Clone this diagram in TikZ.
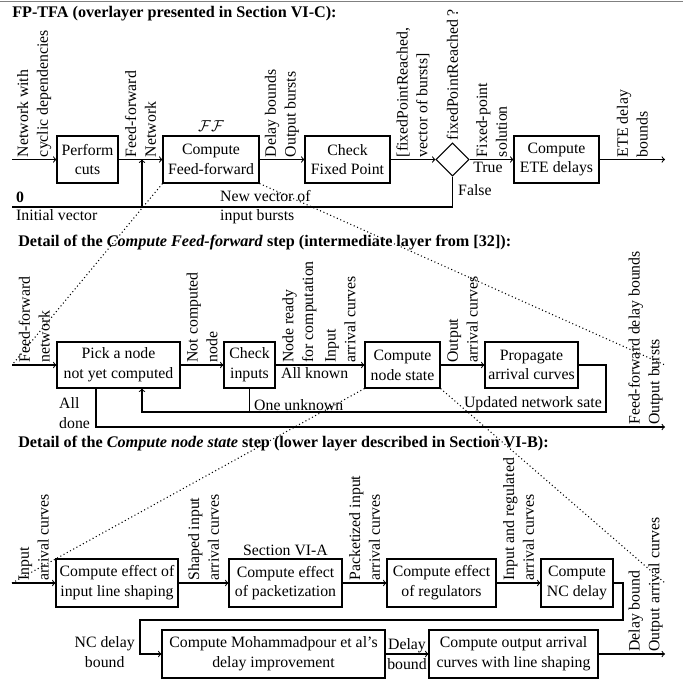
\documentclass[tikz,border=0pt]{standalone}
\usepackage{fontspec}
\setmainfont{Liberation Serif}
\usetikzlibrary{shapes.geometric,calc}
\newcommand{\bodyfont}{\fontsize{12}{15}\selectfont}
\newcommand{\ttlfont}{\fontsize{12.3}{14}\selectfont\bfseries}
\tikzset{
 box/.style={draw, line width=0.8pt, align=center, inner xsep=2pt, inner ysep=2pt, font=\bodyfont, minimum height=47*0.76pt},
 lbl/.style={rotate=90, anchor=west, align=left, inner sep=1.5pt, font=\bodyfont},
 endlbl/.style={rotate=90, anchor=south west, align=left, inner sep=1.5pt, font=\bodyfont},
 txt/.style={font=\bodyfont, inner sep=1.5pt},
 flow/.style={->, line width=0.8pt},
 link/.style={line width=0.8pt},
 zoomline/.style={dotted, line width=0.8pt},
 ttl/.style={anchor=base west, font=\ttlfont, inner sep=0pt},
}
\begin{document}
\begin{tikzpicture}[x=0.76pt,y=-0.76pt]
\useasboundingbox (0,0) rectangle (683,683);
\draw[gray, line width=1.2pt] (0,1.5) -- (683,1.5);

% ---------- titles
\node[ttl] (t1) at (12,17) {FP-TFA (overlayer presented in Section VI-C):};
\node[ttl] (t2) at (18,246) {Detail of the \textit{Compute Feed-forward} step (intermediate layer from [32]):};
\node[ttl] (t3) at (18,447) {Detail of the \textit{Compute node state} step (lower layer described in Section VI-B):};

% ---------- row 1
\coordinate (in1) at (12,159.5);
\coordinate (out1) at (665,159.5);
\node[box, minimum width=61*0.76pt] (cuts) at (87.5,159.5) {Perform\\cuts};
\node[box, minimum width=96*0.76pt] (ff) at (211,159.5) {Compute\\Feed-forward};
\node[box, minimum width=85*0.76pt] (chk) at (347.5,159.5) {Check\\Fixed Point};
\node[draw, diamond, aspect=1, inner sep=0pt, line width=0.8pt, minimum width=33*0.76pt, minimum height=33*0.76pt] (dia) at (452.5,159.5) {};
\node[box, minimum width=85*0.76pt] (ete) at (556.5,159.5) {Compute\\ETE delays};
\node[txt, anchor=south, inner sep=3pt] (ffl) at (ff.north) {$\mathcal{F}\mathcal{F}$};
\node[lbl] (fpr) at (dia.north) {fixedPointReached ?};

\draw[flow] (in1) -- (cuts.west) node[midway, lbl] (l11) {Network with\\cyclic dependencies};
\draw[flow] (cuts.east) -- (ff.west) node[midway, lbl] (l12) {Feed-forward\\Network};
\draw[flow] (ff.east) -- (chk.west) node[midway, lbl] (l13) {Delay bounds\\Output bursts};
\draw[flow] (chk.east) -- (dia.west) node[midway, lbl] (l14) {[fixedPointReached,\\vector of bursts]};
\draw[flow] (dia.east) -- (ete.west) node[midway, lbl] (l15) {Fixed-point\\solution}
  node[pos=0.42, below, txt] (tru) {True};
\draw[flow] (ete.east) -- (out1) node[midway, lbl] (l16) {ETE delay\\bounds};

\coordinate (init) at (12,207);
\coordinate (j) at (142,207);
\coordinate (jt) at (142,159.5);
\draw[flow] (init) -- (j) -- (jt);
\draw[link] (dia.south) |- (j);
\node[txt, anchor=west] (fls) at (456,190) {False};
\node[anchor=south west, font=\bodyfont\bfseries, inner sep=1.5pt] (zero) at (14,205) {0};
\node[txt, anchor=north west] (iv) at (14,207) {Initial vector};
\node[txt, anchor=west, align=left] (nv) at (218,207) {New vector of\\input bursts};

% ---------- row 2
\coordinate (in2) at (12,365);
\coordinate (out2) at (665,427);
\node[box, minimum width=123*0.76pt, minimum height=46*0.76pt] (pick) at (118.5,365) {Pick a node\\not yet computed};
\node[box, minimum width=51*0.76pt, minimum height=46*0.76pt] (cin) at (249.5,365) {Check\\inputs};
\node[box, minimum width=75*0.76pt, minimum height=46*0.76pt] (cns) at (402.5,365) {Compute\\node state};
\node[box, minimum width=93*0.76pt, minimum height=46*0.76pt] (prop) at (531.5,365) {Propagate\\arrival curves};

\draw[flow] (in2) -- (pick.west) node[midway, lbl] (l21) {Feed-forward\\network};
\draw[flow] (pick.east) -- (cin.west) node[midway, lbl] (l22) {Not computed\\node};
\draw[flow] (cin.east) -- (cns.west)
  node[pos=0.27, lbl] (l23) {Node ready\\for computation}
  node[pos=0.73, lbl] (l24) {Input\\arrival curves}
  node[pos=0.44, below, txt] (ak) {All known};
\draw[flow] (cns.east) -- (prop.west) node[midway, lbl] (l25) {Output\\arrival curves};

\coordinate (fbR) at (606,412);
\coordinate (fbL) at (142,412);
\draw[flow] (prop.east) -| (fbR) -- (fbL) -- (fbL |- pick.south);
\draw[link] (cin.south) -- (cin.south |- fbL);
\node[txt, anchor=south west] (oneu) at (252,413) {One unknown};
\node[txt, anchor=south east] (upd) at (604,413) {Updated network sate};

\coordinate (dn) at (96,427);
\draw[flow] (dn |- pick.south) -- (dn) -- (out2);
\node[txt, anchor=west, align=left] (alld) at (57,413) {All\\done};
\node[endlbl] (l26) at (out2) {Feed-forward delay bounds\\Output bursts};

% ---------- row 3
\coordinate (in3) at (12,583);
\coordinate (out3) at (665,654);
\node[box, minimum width=122*0.76pt, minimum height=48*0.76pt] (lsh) at (117,583) {Compute effect of\\input line shaping};
\node[box, minimum width=113*0.76pt, minimum height=48*0.76pt] (pack) at (285.5,583) {Compute effect\\of packetization};
\node[box, minimum width=109*0.76pt, minimum height=48*0.76pt] (reg) at (441.5,583) {Compute effect\\of regulators};
\node[box, minimum width=72*0.76pt, minimum height=48*0.76pt] (ncd) at (577,583) {Compute\\NC delay};
\node[txt, anchor=south, inner sep=2pt] (sva) at (pack.north) {Section VI-A};

\draw[flow] (in3) -- (lsh.west) node[midway, lbl] (l31) {Input\\arrival curves};
\draw[flow] (lsh.east) -- (pack.west) node[midway, lbl] (l32) {Shaped input\\arrival curves};
\draw[flow] (pack.east) -- (reg.west) node[midway, lbl] (l33) {Packetized input\\arrival curves};
\draw[flow] (reg.east) -- (ncd.west) node[midway, lbl] (l34) {Input and regulated\\arrival curves};

% ---------- row 4
\node[box, minimum width=223*0.76pt, minimum height=48*0.76pt] (moh) at (273.5,654) {Compute Mohammadpour et al’s\\delay improvement};
\node[box, minimum width=169*0.76pt, minimum height=48*0.76pt] (outc) at (513.5,654) {Compute output arrival\\curves with line shaping};

\coordinate (ncR) at (623,620);
\coordinate (ncL) at (140,620);
\draw[flow] (ncd.east) -| (ncR) -- (ncL) |- (moh.west);
\node[txt, anchor=east, align=center] (ncb) at (137,652) {NC delay\\bound};
\draw[flow] (moh.east) -- (outc.west) node[midway, txt, align=center, inner sep=0pt] (db) {Delay\\bound};
\draw[flow] (outc.east) -- (out3);
\node[endlbl] (l41) at (out3) {Delay bound\\Output arrival curves};

% ---------- zoom lines
\draw[zoomline] (ff.south west) -- (in2);
\draw[zoomline] (ff.south east) -- (665,365);
\draw[zoomline] (cns.south west) -- (in3);
\draw[zoomline] (cns.south east) -- (665,583);
\end{tikzpicture}
\end{document}
